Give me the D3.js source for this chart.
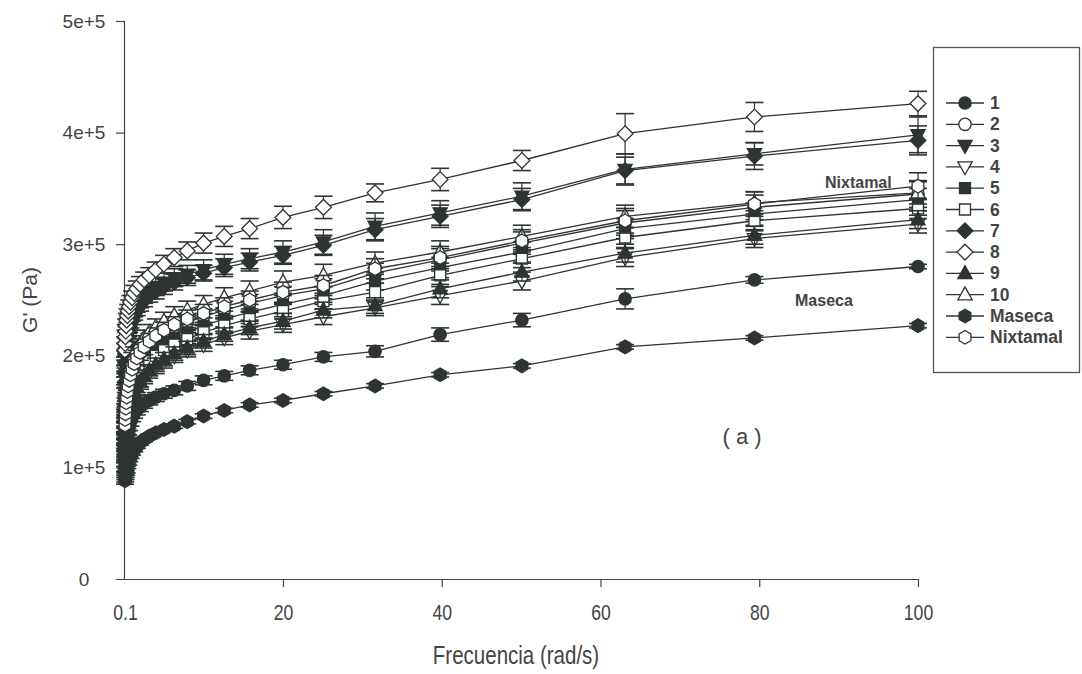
<!DOCTYPE html>
<html>
<head>
<meta charset="utf-8">
<script src="https://cdn.jsdelivr.net/npm/d3@7"></script>
<style>
  body { margin: 0; background: #fff; }
  svg { display: block; }
</style>
</head>
<body>
<div id="chart"></div>
<script>
// frequency points (rad/s), log spaced
const freq = [0.1, 0.126, 0.158, 0.2, 0.251, 0.316, 0.398, 0.501, 0.631, 0.794,
  1, 1.26, 1.58, 2, 2.51, 3.16, 3.98, 5.01, 6.31, 7.94,
  10, 12.6, 15.8, 20, 25.1, 31.6, 39.8, 50.1, 63.1, 79.4, 100];

// G' values, in units of 1e5 Pa
const g1 = [1.00, 1.05, 1.10, 1.15, 1.20, 1.25, 1.29, 1.33, 1.37, 1.41, 1.45, 1.48, 1.51, 1.54, 1.57, 1.60, 1.63, 1.66, 1.69, 1.73, 1.78, 1.82, 1.87, 1.92, 1.99, 2.04, 2.19, 2.32, 2.51, 2.68, 2.80];
const g2 = [1.35, 1.41, 1.46, 1.51, 1.56, 1.61, 1.65, 1.70, 1.75, 1.80, 1.85, 1.90, 1.95, 2.00, 2.05, 2.10, 2.15, 2.20, 2.25, 2.30, 2.35, 2.41, 2.47, 2.54, 2.60, 2.74, 2.86, 3.01, 3.19, 3.33, 3.45];
const g3 = [1.80, 1.90, 1.98, 2.05, 2.11, 2.16, 2.21, 2.26, 2.30, 2.34, 2.38, 2.42, 2.46, 2.50, 2.54, 2.58, 2.62, 2.66, 2.70, 2.73, 2.77, 2.82, 2.87, 2.93, 3.02, 3.16, 3.28, 3.43, 3.67, 3.81, 3.98];
const g4 = [1.10, 1.15, 1.20, 1.25, 1.30, 1.35, 1.40, 1.45, 1.50, 1.55, 1.60, 1.65, 1.70, 1.75, 1.80, 1.85, 1.90, 1.95, 2.00, 2.05, 2.10, 2.16, 2.22, 2.28, 2.35, 2.43, 2.54, 2.67, 2.88, 3.05, 3.18];
const g5 = [1.26, 1.31, 1.36, 1.41, 1.46, 1.51, 1.56, 1.61, 1.66, 1.71, 1.76, 1.81, 1.86, 1.91, 1.96, 2.01, 2.06, 2.11, 2.16, 2.21, 2.27, 2.33, 2.39, 2.46, 2.54, 2.67, 2.79, 2.93, 3.14, 3.27, 3.40];
const g6 = [1.20, 1.25, 1.30, 1.35, 1.40, 1.45, 1.50, 1.55, 1.60, 1.65, 1.70, 1.75, 1.80, 1.85, 1.90, 1.95, 2.00, 2.05, 2.10, 2.15, 2.21, 2.27, 2.33, 2.40, 2.49, 2.57, 2.72, 2.87, 3.06, 3.21, 3.32];
const g7 = [1.76, 1.86, 1.94, 2.01, 2.07, 2.12, 2.17, 2.22, 2.26, 2.30, 2.34, 2.38, 2.42, 2.46, 2.50, 2.54, 2.58, 2.62, 2.66, 2.70, 2.74, 2.79, 2.84, 2.90, 2.99, 3.13, 3.25, 3.40, 3.66, 3.79, 3.93];
const g8 = [2.05, 2.11, 2.17, 2.22, 2.27, 2.32, 2.36, 2.40, 2.44, 2.48, 2.52, 2.56, 2.60, 2.64, 2.68, 2.72, 2.77, 2.82, 2.88, 2.94, 3.01, 3.07, 3.14, 3.24, 3.33, 3.46, 3.58, 3.75, 3.99, 4.14, 4.26];
const g9 = [1.12, 1.17, 1.22, 1.27, 1.32, 1.37, 1.42, 1.47, 1.52, 1.57, 1.62, 1.67, 1.72, 1.77, 1.82, 1.87, 1.92, 1.97, 2.02, 2.07, 2.13, 2.19, 2.25, 2.31, 2.41, 2.45, 2.60, 2.75, 2.92, 3.08, 3.22];
const g10 = [1.46, 1.51, 1.56, 1.61, 1.66, 1.71, 1.76, 1.81, 1.86, 1.91, 1.96, 2.01, 2.06, 2.11, 2.16, 2.21, 2.26, 2.31, 2.36, 2.41, 2.46, 2.52, 2.58, 2.66, 2.72, 2.83, 2.93, 3.07, 3.25, 3.37, 3.46];
const gMaseca = [0.88, 0.90, 0.92, 0.94, 0.96, 0.98, 1.01, 1.04, 1.07, 1.10, 1.13, 1.16, 1.19, 1.22, 1.25, 1.28, 1.31, 1.34, 1.37, 1.41, 1.46, 1.51, 1.56, 1.60, 1.66, 1.73, 1.83, 1.91, 2.08, 2.16, 2.27];
const gNixtamal = [1.38, 1.43, 1.48, 1.53, 1.58, 1.63, 1.68, 1.73, 1.78, 1.83, 1.88, 1.93, 1.98, 2.03, 2.08, 2.13, 2.18, 2.23, 2.28, 2.33, 2.38, 2.44, 2.50, 2.57, 2.63, 2.78, 2.88, 3.03, 3.21, 3.36, 3.52];

// error bar half widths, 1e5 Pa
const e1 = [0.04, 0.04, 0.04, 0.04, 0.04, 0.04, 0.04, 0.04, 0.04, 0.04, 0.04, 0.04, 0.04, 0.04, 0.04, 0.04, 0.04, 0.04, 0.04, 0.04, 0.04, 0.04, 0.04, 0.04, 0.04, 0.05, 0.06, 0.06, 0.09, 0.03, 0.02];
const e2 = [0.06, 0.06, 0.06, 0.06, 0.06, 0.06, 0.06, 0.06, 0.06, 0.06, 0.06, 0.06, 0.06, 0.06, 0.06, 0.06, 0.07, 0.07, 0.07, 0.07, 0.07, 0.08, 0.08, 0.08, 0.09, 0.09, 0.10, 0.10, 0.11, 0.11, 0.12];
const e3 = [0.06, 0.06, 0.06, 0.06, 0.06, 0.06, 0.06, 0.06, 0.06, 0.06, 0.07, 0.07, 0.07, 0.07, 0.07, 0.07, 0.08, 0.08, 0.08, 0.08, 0.09, 0.09, 0.09, 0.10, 0.11, 0.12, 0.11, 0.12, 0.14, 0.10, 0.16];
const e4 = [0.05, 0.05, 0.05, 0.05, 0.05, 0.05, 0.05, 0.05, 0.05, 0.05, 0.05, 0.05, 0.05, 0.05, 0.05, 0.05, 0.06, 0.06, 0.06, 0.06, 0.06, 0.06, 0.07, 0.07, 0.07, 0.07, 0.08, 0.08, 0.08, 0.08, 0.08];
const e5 = [0.05, 0.05, 0.05, 0.05, 0.05, 0.05, 0.05, 0.05, 0.05, 0.05, 0.06, 0.06, 0.06, 0.06, 0.06, 0.06, 0.06, 0.06, 0.07, 0.07, 0.07, 0.07, 0.07, 0.08, 0.08, 0.08, 0.09, 0.09, 0.09, 0.10, 0.10];
const e6 = [0.05, 0.05, 0.05, 0.05, 0.05, 0.05, 0.05, 0.05, 0.05, 0.05, 0.05, 0.05, 0.05, 0.05, 0.06, 0.06, 0.06, 0.06, 0.06, 0.06, 0.06, 0.07, 0.07, 0.07, 0.07, 0.08, 0.08, 0.08, 0.09, 0.09, 0.09];
const e7 = [0.05, 0.05, 0.05, 0.05, 0.05, 0.05, 0.05, 0.05, 0.05, 0.05, 0.06, 0.06, 0.06, 0.06, 0.06, 0.06, 0.07, 0.07, 0.07, 0.07, 0.07, 0.08, 0.08, 0.08, 0.09, 0.10, 0.10, 0.10, 0.12, 0.12, 0.13];
const e8 = [0.06, 0.06, 0.06, 0.06, 0.06, 0.06, 0.06, 0.06, 0.06, 0.06, 0.06, 0.07, 0.07, 0.07, 0.07, 0.07, 0.07, 0.08, 0.08, 0.08, 0.09, 0.09, 0.09, 0.10, 0.10, 0.08, 0.10, 0.09, 0.18, 0.13, 0.11];
const e9 = [0.05, 0.05, 0.05, 0.05, 0.05, 0.05, 0.05, 0.05, 0.05, 0.05, 0.05, 0.05, 0.05, 0.05, 0.05, 0.05, 0.06, 0.06, 0.06, 0.06, 0.06, 0.06, 0.06, 0.07, 0.07, 0.07, 0.08, 0.08, 0.08, 0.08, 0.08];
const e10 = [0.06, 0.06, 0.06, 0.06, 0.06, 0.06, 0.06, 0.06, 0.06, 0.06, 0.07, 0.07, 0.07, 0.07, 0.07, 0.07, 0.07, 0.08, 0.08, 0.08, 0.08, 0.09, 0.09, 0.10, 0.10, 0.10, 0.10, 0.10, 0.10, 0.10, 0.10];
const eMaseca = [0.03, 0.03, 0.03, 0.03, 0.03, 0.03, 0.02, 0.02, 0.02, 0.02, 0.02, 0.02, 0.02, 0.02, 0.02, 0.02, 0.02, 0.02, 0.02, 0.02, 0.02, 0.02, 0.02, 0.02, 0.02, 0.02, 0.02, 0.02, 0.02, 0.02, 0.02];
const eNixtamal = [0.06, 0.06, 0.06, 0.06, 0.06, 0.06, 0.06, 0.06, 0.06, 0.06, 0.06, 0.06, 0.07, 0.07, 0.07, 0.07, 0.07, 0.07, 0.07, 0.08, 0.08, 0.08, 0.08, 0.09, 0.09, 0.09, 0.10, 0.10, 0.11, 0.11, 0.12];

const seriesNames = ["1", "2", "3", "4", "5", "6", "7", "8", "9", "10", "Maseca", "Nixtamal"];
const seriesShapes = ["circle", "circle", "triDown", "triDown", "square", "square", "diamond", "diamond", "triUp", "triUp", "hexagon", "hexagon"];
const seriesFilled = [true, false, true, false, true, false, true, false, true, false, true, false];
const seriesValues = [g1, g2, g3, g4, g5, g6, g7, g8, g9, g10, gMaseca, gNixtamal];
const seriesErrors = [e1, e2, e3, e4, e5, e6, e7, e8, e9, e10, eMaseca, eNixtamal];

const xTicks = [0.1, 20, 40, 60, 80, 100];
const yTicks = [0, 1e5, 2e5, 3e5, 4e5, 5e5];
const yTickLabels = ["0", "1e+5", "2e+5", "3e+5", "4e+5", "5e+5"];

const W = 1082, H = 674;
const M = {LEFT: 124, RIGHT: 164, TOP: 21, BOTTOM: 95};
const INK = "#2e3430";
const TXT = "#444";
const FONT = "'Liberation Sans', Arial, sans-serif";

const svg = d3.select("#chart").append("svg")
  .attr("width", W)
  .attr("height", H);

const x = d3.scaleLinear().domain([0.1, 100]).range([M.LEFT + 1, W - M.RIGHT]);
const y = d3.scaleLinear().domain([0, 5e5]).range([H - M.BOTTOM, M.TOP]);

// custom symbol types for d3.symbol
const shapes = {
  circle: {draw(c, s) { const r = Math.sqrt(s / Math.PI); c.moveTo(r, 0); c.arc(0, 0, r, 0, 2 * Math.PI); }},
  square: {draw(c, s) { const h = Math.sqrt(s) / 2; c.rect(-h, -h, 2 * h, 2 * h); }},
  diamond: {draw(c, s) { const h = Math.sqrt(s) * 0.72; c.moveTo(0, -h); c.lineTo(h, 0); c.lineTo(0, h); c.lineTo(-h, 0); c.closePath(); }},
  triUp: {draw(c, s) { const h = Math.sqrt(s) * 0.62; c.moveTo(0, -h * 1.15); c.lineTo(h * 1.05, h * 0.75); c.lineTo(-h * 1.05, h * 0.75); c.closePath(); }},
  triDown: {draw(c, s) { const h = Math.sqrt(s) * 0.62; c.moveTo(0, h * 1.15); c.lineTo(h * 1.05, -h * 0.75); c.lineTo(-h * 1.05, -h * 0.75); c.closePath(); }},
  hexagon: {draw(c, s) {
    const r = Math.sqrt(s / 2.6);
    for (let k = 0; k < 6; k++) {
      const a = -Math.PI / 2 + k * Math.PI / 3;
      if (k === 0) c.moveTo(r * Math.cos(a), r * Math.sin(a)); else c.lineTo(r * Math.cos(a), r * Math.sin(a));
    }
    c.closePath();
  }}
};
const symbolPath = (name) => d3.symbol().type(shapes[name]).size(120)();

// axes
const xAxis = d3.axisBottom(x).tickValues(xTicks).tickSize(8).tickFormat((d) => String(d));
svg.append("g")
  .attr("transform", `translate(0,${H - M.BOTTOM})`)
  .call(xAxis)
  .call((g) => g.select(".domain").attr("d", `M${M.LEFT - 8},0.5H${W - M.RIGHT}`))
  .call((g) => g.selectAll(".tick").filter((d) => d === 0.1).select("line").remove())
  .call((g) => g.selectAll("text")
    .attr("dy", null).attr("y", 0)
    .attr("transform", "translate(0,41) scale(0.8,1)")
    .attr("font-family", FONT)
    .attr("font-size", 22));

const yAxis = d3.axisLeft(y).tickValues(yTicks).tickSize(8).tickFormat((d, i) => yTickLabels[i]);
svg.append("g")
  .attr("transform", `translate(${M.LEFT},0)`)
  .call(yAxis)
  .call((g) => g.select(".domain").attr("d", `M0.5,${M.TOP}V${H - M.BOTTOM}`))
  .call((g) => g.selectAll(".tick").filter((d) => d === 0).select("line").remove())
  .call((g) => g.selectAll("text")
    .attr("text-anchor", "middle").attr("x", -40)
    .attr("font-family", FONT)
    .attr("font-size", 19));

svg.selectAll("g[font-size]").attr("font-size", null).attr("font-family", null);
svg.selectAll(".domain, .tick line").attr("stroke", "#444").attr("stroke-width", 1.2);
svg.selectAll(".tick text").attr("fill", TXT);

svg.append("text")
  .attr("transform", `translate(${(M.LEFT + W - M.RIGHT) / 2 - 5},664) scale(0.82,1)`)
  .attr("text-anchor", "middle")
  .attr("fill", TXT)
  .attr("font-family", FONT)
  .attr("font-size", 25)
  .text("Frecuencia (rad/s)");

svg.append("text")
  .attr("transform", `translate(37,${y(2.5e5)}) rotate(-90)`)
  .attr("text-anchor", "middle")
  .attr("fill", TXT)
  .attr("font-family", FONT)
  .attr("font-size", 21)
  .text("G' (Pa)");

// series
const plot = svg.append("g");
const line = d3.line().x((d) => x(d.f)).y((d) => y(d.v * 1e5));

seriesNames.forEach((name, s) => {
  const pts = freq.map((f, i) => ({f, v: seriesValues[s][i], e: seriesErrors[s][i]}));
  const g = plot.append("g");
  g.append("path")
    .datum(pts)
    .attr("d", line)
    .attr("fill", "none")
    .attr("stroke", INK)
    .attr("stroke-width", 1.3);
  const bars = g.selectAll(".err").data(pts).enter().append("g").attr("class", "err");
  bars.append("line")
    .attr("x1", (d) => x(d.f)).attr("x2", (d) => x(d.f))
    .attr("y1", (d) => y((d.v + d.e) * 1e5)).attr("y2", (d) => y((d.v - d.e) * 1e5))
    .attr("stroke", INK).attr("stroke-width", 1.2);
  bars.selectAll(".cap").data((d) => [d.v + d.e, d.v - d.e]).enter().append("line")
    .attr("x1", function() { return x(d3.select(this.parentNode).datum().f) - 9; })
    .attr("x2", function() { return x(d3.select(this.parentNode).datum().f) + 9; })
    .attr("y1", (v) => y(v * 1e5)).attr("y2", (v) => y(v * 1e5))
    .attr("stroke", INK).attr("stroke-width", 1.6);
  g.selectAll(".mk").data(pts).enter().append("path")
    .attr("transform", (d) => `translate(${x(d.f)},${y(d.v * 1e5)})`)
    .attr("d", symbolPath(seriesShapes[s]))
    .attr("fill", seriesFilled[s] ? INK : "#fff")
    .attr("stroke", INK)
    .attr("stroke-width", 1.3);
});

// labels inside the plot
svg.append("text").attr("x", 825).attr("y", 188).attr("text-anchor", "start")
  .attr("fill", TXT).attr("font-family", FONT)
  .attr("font-size", 16).attr("font-weight", "bold").text("Nixtamal");
svg.append("text").attr("x", 795).attr("y", 306).attr("text-anchor", "start")
  .attr("fill", TXT).attr("font-family", FONT)
  .attr("font-size", 16).attr("font-weight", "bold").text("Maseca");
svg.append("text").attr("x", 742).attr("y", 444).attr("text-anchor", "middle")
  .attr("fill", TXT).attr("font-family", FONT)
  .attr("font-size", 22).text("( a )");

// legend
const legend = svg.append("g");
legend.append("rect")
  .attr("x", 933.5).attr("y", 47.5).attr("width", 146).attr("height", 325)
  .attr("fill", "#fff").attr("stroke", "#555").attr("stroke-width", 1.3);
const item = legend.selectAll(".item").data(seriesNames).enter().append("g")
  .attr("transform", (d, i) => `translate(0,${103 + i * 21.3})`);
item.append("line").attr("x1", 946).attr("x2", 984).attr("y1", 0).attr("y2", 0)
  .attr("stroke", INK).attr("stroke-width", 1.3);
item.append("path")
  .attr("transform", "translate(965,0)")
  .attr("d", (d, i) => symbolPath(seriesShapes[i]))
  .attr("fill", (d, i) => seriesFilled[i] ? INK : "#fff")
  .attr("stroke", INK).attr("stroke-width", 1.3);
item.append("text").attr("x", 990).attr("y", 6)
  .attr("fill", TXT).attr("font-family", FONT)
  .attr("font-size", 17.5).attr("font-weight", "bold")
  .text((d) => d);
</script>
</body>
</html>
